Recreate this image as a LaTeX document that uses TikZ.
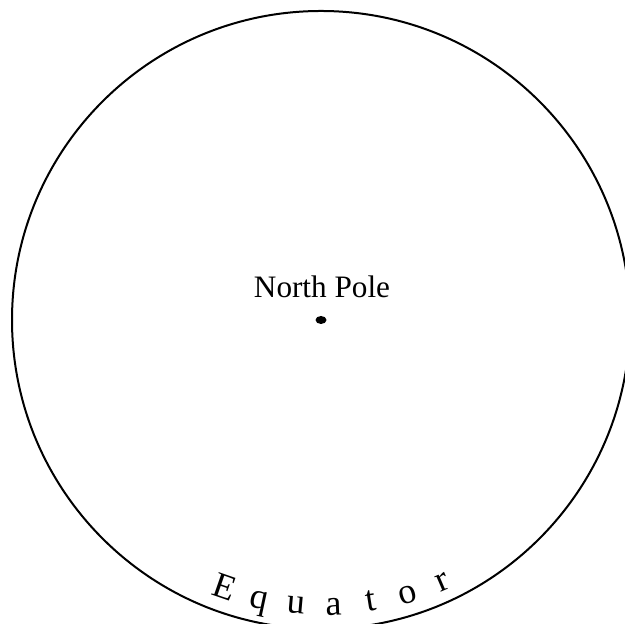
\documentclass[tikz,border=0pt]{standalone}
\usepackage{fontspec}
\setmainfont{Liberation Serif}
\usetikzlibrary{calc}
\begin{document}
\begin{tikzpicture}[x=0.5pt,y=0.5pt,font=\fontsize{15.6}{18}\selectfont]
	\useasboundingbox (0,0) rectangle (625,624);
	\coordinate (pole) at (321,304);
	\coordinate (arc) at (323,321);
	\draw[line width=1pt] (pole) circle (309);
	\fill (pole) ellipse (5.5 and 4);
	\node[anchor=base] (north) at (322,326) {North Pole};
	\foreach \i/\l in {0/E,1/q,2/u,3/a,4/t,5/o,6/r}
		\node[anchor=base,rotate=-19.2+7.07*\i,font=\fontsize{18}{20}\selectfont] (eq\i) at ($(arc)+(250.8+7.07*\i:312)$) {\l};
\end{tikzpicture}
\end{document}
